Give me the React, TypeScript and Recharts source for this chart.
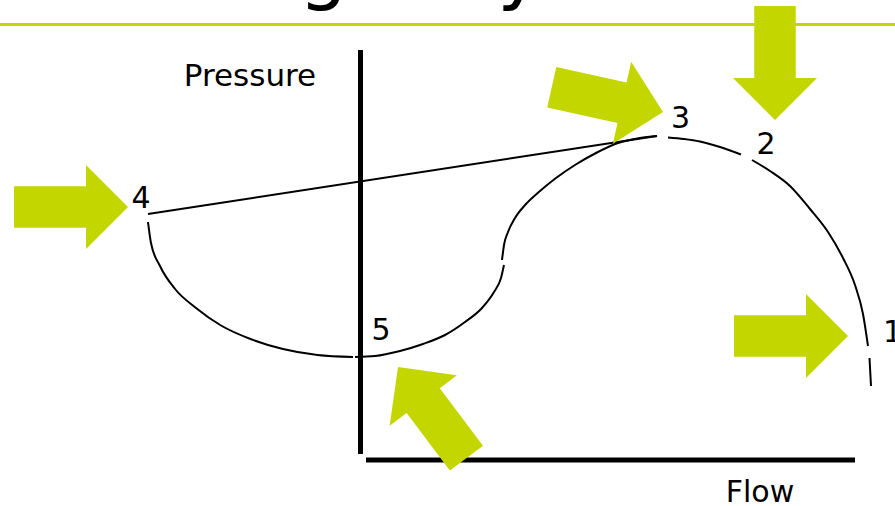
import { LineChart, Line, XAxis, YAxis, ReferenceLine, ReferenceDot } from "recharts"

const GREEN = "#c4d600"
const FONT = "DejaVu Sans, Verdana, sans-serif"

// flow / pressure in arbitrary units, origin at the corner of the two axes
const surgeLine = [
    { flow: -21.2, pressure: 24.6 },
    { flow: 29.7, pressure: 32.4 },
]

const fallCurve = [
    { flow: -21.2, pressure: 23.8 },
    { flow: -20.9, pressure: 21.7 },
    { flow: -20.0, pressure: 19.4 },
    { flow: -18.45, pressure: 17.05 },
    { flow: -16.4, pressure: 15.2 },
    { flow: -13.9, pressure: 13.45 },
    { flow: -10.95, pressure: 12.1 },
    { flow: -7.7, pressure: 11.1 },
    { flow: -4.25, pressure: 10.5 },
    { flow: -0.7, pressure: 10.3 },
]

const riseCurve = [
    { flow: -0.5, pressure: 10.3 },
    { flow: 1.5, pressure: 10.4 },
    { flow: 4.0, pressure: 10.9 },
    { flow: 6.3, pressure: 11.6 },
    { flow: 8.5, pressure: 12.5 },
    { flow: 10.5, pressure: 13.8 },
    { flow: 12.2, pressure: 15.2 },
    { flow: 13.4, pressure: 16.8 },
    { flow: 14.1, pressure: 18.2 },
    { flow: 14.4, pressure: 19.5 },
    { flow: 14.3, pressure: null },
    { flow: 14.2, pressure: 20.0 },
    { flow: 14.4, pressure: 21.5 },
    { flow: 14.8, pressure: 22.8 },
    { flow: 15.5, pressure: 24.2 },
    { flow: 16.6, pressure: 25.6 },
    { flow: 18.0, pressure: 26.9 },
    { flow: 19.6, pressure: 28.2 },
    { flow: 21.5, pressure: 29.5 },
    { flow: 23.6, pressure: 30.7 },
    { flow: 25.8, pressure: 31.7 },
    { flow: 28.0, pressure: 32.2 },
    { flow: 29.7, pressure: 32.4 },
]

const characteristic = [
    { flow: 30.8, pressure: 32.25 },
    { flow: 32.4, pressure: 32.1 },
    { flow: 34.0, pressure: 31.85 },
    { flow: 36.0, pressure: 31.3 },
    { flow: 38.1, pressure: 30.55 },
    { flow: 38.6, pressure: null },
    { flow: 39.2, pressure: 30.0 },
    { flow: 41.0, pressure: 28.9 },
    { flow: 43.0, pressure: 27.4 },
    { flow: 45.0, pressure: 25.1 },
    { flow: 46.8, pressure: 22.8 },
    { flow: 48.3, pressure: 20.2 },
    { flow: 49.5, pressure: 17.5 },
    { flow: 50.3, pressure: 14.6 },
    { flow: 50.8, pressure: 11.4 },
    { flow: 50.9, pressure: null },
    { flow: 50.95, pressure: 10.2 },
    { flow: 51.1, pressure: 7.4 },
]

const pointLabels = ["1", "2", "3", "4", "5"]
const pointLabelFlow = [52.3, 40.6, 32.05, -21.9, 2.1]
const pointLabelPressure = [11.8, 30.6, 33.2, 25.2, 12.0]

const arrowFlow = [-23.2, 30.3, 41.5, 48.8, 3.8]
const arrowPressure = [25.3, 34.8, 34.0, 12.4, 9.3]
const arrowAngle = [0, 12.6, 90, 0, -126.9]

const Arrow = ({ cx, cy, angle }: any) => (
    <polygon
        points="0,0 -42,-42 -42,-20.75 -114,-20.75 -114,20.75 -42,20.75 -42,42"
        transform={`translate(${cx},${cy}) rotate(${angle})`}
        fill={GREEN}
    />
)

const Caption = ({ cx, cy, text, anchor, size, spacing }: any) => (
    <text x={cx} y={cy} textAnchor={anchor} fontSize={size} fontFamily={FONT} fill="#000" wordSpacing={spacing}>
        {text}
    </text>
)

export default function App() {
    return (
        <div style={{ position: "absolute", left: 0, top: 0, background: "#fff" }}>
            <LineChart width={895} height={506} margin={{ top: 0, right: 0, bottom: 0, left: 0 }}>
                <XAxis dataKey="flow" type="number" domain={[-36, 53.5]} allowDataOverflow hide />
                <YAxis type="number" domain={[-4.6, 46]} allowDataOverflow hide />

                <ReferenceLine y={43.55} stroke={GREEN} strokeWidth={3} />

                <ReferenceLine segment={[{ x: 0.05, y: 0.6 }, { x: 0.05, y: 41 }]} stroke="#000" strokeWidth={5} />
                <ReferenceLine segment={[{ x: 0.6, y: 0.0 }, { x: 49.5, y: 0.0 }]} stroke="#000" strokeWidth={5} />

                {arrowFlow.map((f, i) => (
                    <ReferenceDot
                        key={`arrow-${i}`}
                        x={f}
                        y={arrowPressure[i]}
                        ifOverflow="visible"
                        shape={(props: any) => <Arrow {...props} angle={arrowAngle[i]} />}
                    />
                ))}

                <Line data={surgeLine} dataKey="pressure" type="linear" stroke="#000" strokeWidth={2} dot={false} activeDot={false} isAnimationActive={false} />
                <Line data={fallCurve} dataKey="pressure" type="monotone" stroke="#000" strokeWidth={2} dot={false} activeDot={false} isAnimationActive={false} />
                <Line data={riseCurve} dataKey="pressure" type="monotone" stroke="#000" strokeWidth={2} dot={false} activeDot={false} isAnimationActive={false} />
                <Line data={characteristic} dataKey="pressure" type="monotone" stroke="#000" strokeWidth={2} dot={false} activeDot={false} isAnimationActive={false} />

                {pointLabels.map((t, i) => (
                    <ReferenceDot
                        key={`label-${t}`}
                        x={pointLabelFlow[i]}
                        y={pointLabelPressure[i]}
                        ifOverflow="visible"
                        shape={(props: any) => <Caption {...props} text={t} anchor={t === "1" ? "start" : "middle"} size={30} />}
                    />
                ))}

                <ReferenceDot x={-11.0} y={37.4} ifOverflow="visible" shape={(props: any) => <Caption {...props} text="Pressure" anchor="middle" size={31} />} />
                <ReferenceDot x={40.0} y={-4.2} ifOverflow="visible" shape={(props: any) => <Caption {...props} text="Flow" anchor="middle" size={30} />} />
                <ReferenceDot x={-18.93} y={46.5} ifOverflow="visible" shape={(props: any) => <Caption {...props} text="Surge Cycle" anchor="start" size={77} spacing={24} />} />
            </LineChart>
        </div>
    )
}
